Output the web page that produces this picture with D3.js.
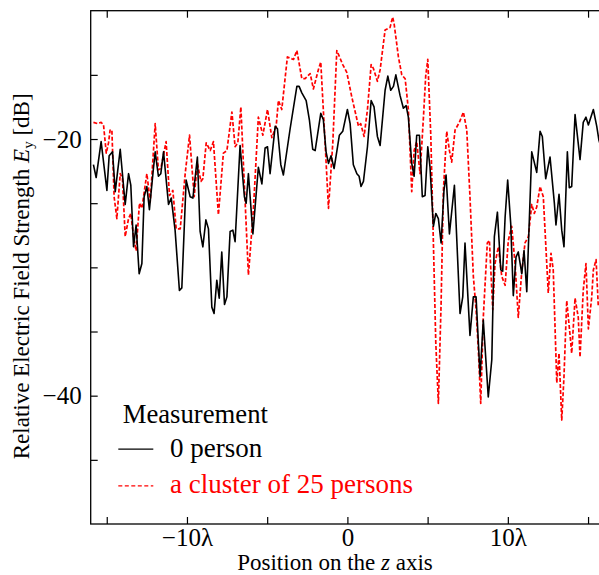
<!DOCTYPE html>
<html>
<head>
<meta charset="utf-8">
<script src="https://cdn.jsdelivr.net/npm/d3@7"></script>
<style>
body { margin: 0; background: #fff; }
svg text { font-family: "Liberation Serif", "Times New Roman", serif; }
</style>
</head>
<body>
<div id="chart"></div>
<script>
// measured field strength along z (in wavelengths), dB
let zBlack = [-15.83,-15.66,-15.35,-14.99,-14.85,-14.64,-14.47,-14.16,-13.85,-13.64,-13.50,-13.33,-13.17,-12.98,-12.81,-12.67,-12.50,-12.34,-12.09,-11.98,
  -11.78,-11.63,-11.46,-11.15,-10.98,-10.74,-10.47,-10.32,-10.05,-9.80,-9.63,-9.35,-9.18,-9.01,-8.82,-8.66,-8.45,-8.31,-8.14,-7.99,
  -7.83,-7.66,-7.51,-7.31,-7.14,-7.00,-6.69,-6.42,-6.31,-6.17,-5.89,-5.55,-5.33,-5.13,-4.98,-4.82,-4.50,-4.36,-4.15,-3.99,
  -3.57,-3.15,-3.01,-2.84,-2.57,-2.37,-2.16,-2.01,-1.66,-1.50,-1.33,-1.18,-1.02,-0.83,-0.50,-0.29,0,0.17,0.37,0.59,
  0.73,0.85,1.00,1.25,1.48,1.66,1.87,2.04,2.35,2.52,2.70,2.87,3.02,3.28,3.49,3.66,3.80,4.01,4.16,4.32,
  4.49,4.67,4.84,5.01,5.15,5.36,5.51,5.67,5.84,6.02,6.15,6.36,6.67,7.02,7.19,7.33,7.64,7.85,8.02,8.27,
  8.47,8.78,9.00,9.16,9.35,9.56,9.68,9.83,9.99,10.18,10.34,10.51,10.65,10.87,11.01,11.18,11.49,11.80,12.01,12.15,
  12.36,12.63,12.90,13.00,13.19,13.36,13.50,13.71,13.83,13.98,14.19,14.50,14.70,14.87,15.02,15.33,15.54,15.68,15.87];
let dbBlack = [-22.0,-23.0,-20.2,-24.0,-21.3,-21.0,-24.1,-20.8,-25.1,-22.7,-23.6,-28.4,-26.7,-30.5,-29.7,-24.5,-23.7,-25.5,-22.3,-21.0,
  -22.9,-22.7,-21.0,-25.1,-24.6,-27.1,-31.8,-31.6,-23.2,-24.5,-24.6,-21.4,-27.2,-28.4,-26.3,-27.0,-33.1,-33.6,-31.0,-32.4,
  -28.8,-32.9,-32.3,-27.2,-27.1,-28.0,-20.5,-24.5,-25.0,-22.7,-27.4,-22.2,-23.5,-20.7,-20.6,-22.7,-19.0,-19.2,-22.0,-22.8,
  -19.2,-15.9,-15.9,-16.4,-17.0,-18.5,-20.8,-20.9,-18.0,-18.5,-21.0,-21.9,-21.3,-22.3,-19.7,-19.4,-17.7,-18.8,-22.0,-22.7,
  -22.9,-23.7,-23.3,-20.6,-17.0,-17.5,-19.8,-20.5,-16.2,-15.1,-16.2,-15.9,-15.0,-16.6,-17.6,-17.4,-18.3,-21.9,-22.9,-19.7,
  -19.7,-24.5,-24.4,-20.6,-22.2,-26.8,-25.8,-26.2,-28.1,-24.0,-22.8,-27.4,-23.6,-33.6,-32.3,-28.1,-35.3,-32.3,-32.3,-38.5,
  -34.1,-40.1,-37.2,-27.6,-25.7,-30.2,-30.3,-26.1,-23.2,-26.6,-32.2,-29.2,-28.8,-30.5,-28.7,-31.9,-21.0,-22.6,-19.4,-19.8,
  -23.1,-21.4,-25.0,-26.7,-24.3,-27.1,-28.4,-21.0,-23.8,-23.7,-18.1,-21.6,-18.7,-18.3,-18.9,-17.7,-19.0,-20.1,-20.9];

let zRed = [-15.83,-15.58,-15.35,-15.20,-15.03,-14.89,-14.79,-14.68,-14.54,-14.37,-14.16,-14.02,-13.85,-13.64,-13.50,-13.33,-13.17,-12.96,-12.81,-12.50,
  -12.29,-11.98,-11.78,-11.63,-11.30,-11.09,-10.88,-10.67,-10.42,-10.11,-9.84,-9.55,-9.35,-9.13,-9.01,-8.80,-8.55,-8.35,-8.04,-7.73,
  -7.51,-7.20,-7.00,-6.83,-6.64,-6.37,-6.17,-5.86,-5.55,-5.27,-4.98,-4.71,-4.44,-4.30,-4.09,-3.74,-3.57,-3.36,-3.15,-2.84,
  -2.64,-2.32,-2.12,-1.81,-1.66,-1.39,-1.18,-0.91,-0.66,-0.29,-0.04,0.27,0.69,0.83,1.04,1.25,1.48,1.62,1.87,2.04,
  2.35,2.66,2.82,2.91,3.18,3.39,3.60,3.80,4.01,4.16,4.32,4.53,4.74,4.88,5.01,5.20,5.36,5.51,5.67,5.84,
  5.98,6.19,6.36,6.50,6.71,6.98,7.23,7.44,7.64,7.85,8.02,8.16,8.31,8.47,8.72,8.85,9.06,9.20,9.41,9.62,
  9.83,10.03,10.24,10.45,10.65,10.87,11.07,11.28,11.49,11.65,11.80,12.01,12.21,12.52,12.69,12.83,13.05,13.19,13.36,13.50,
  13.67,13.88,13.98,14.19,14.39,14.50,14.70,14.87,15.02,15.23,15.33,15.50,15.64];
let dbRed = [-18.7,-18.8,-18.7,-18.9,-21.1,-20.3,-19.3,-19.3,-24.5,-26.2,-22.7,-23.1,-27.6,-26.2,-25.8,-27.6,-28.7,-25.0,-25.4,-22.7,
  -24.9,-18.8,-22.4,-22.3,-20.2,-24.4,-24.0,-27.0,-27.0,-22.7,-19.7,-24.5,-21.9,-23.3,-23.1,-20.3,-20.9,-20.2,-25.9,-21.1,
  -20.9,-17.9,-20.6,-20.3,-17.5,-25.0,-30.6,-25.5,-18.3,-19.7,-17.7,-19.9,-19.0,-17.0,-17.7,-13.6,-13.7,-13.8,-13.1,-15.3,
  -15.3,-14.9,-16.1,-14.6,-14.0,-20.3,-25.4,-20.3,-13.1,-14.2,-14.8,-16.7,-19.0,-18.8,-19.8,-17.7,-14.2,-14.5,-15.5,-14.6,
  -11.5,-11.3,-10.5,-11.0,-13.6,-15.0,-15.3,-17.7,-24.1,-20.9,-20.2,-22.7,-18.3,-15.1,-13.8,-19.8,-28.1,-35.9,-40.6,-32.8,
  -24.1,-19.4,-20.9,-21.8,-19.3,-18.7,-17.9,-19.3,-24.5,-30.7,-33.3,-36.4,-40.6,-33.9,-28.1,-27.9,-33.3,-29.7,-28.4,-30.7,
  -31.4,-27.9,-26.8,-29.7,-33.9,-30.3,-28.1,-27.6,-25.1,-25.8,-25.3,-23.7,-24.5,-32.0,-28.9,-30.2,-39.0,-36.7,-41.9,-38.5,
  -32.6,-35.3,-36.7,-32.4,-33.9,-37.0,-31.8,-29.7,-34.8,-32.3,-30.2,-29.4,-33.1];

let seriesNames = ["0 person", "a cluster of 25 persons"];
let seriesColors = ["#000000", "#ff0000"];
let legendTitle = "Measurement";

let xTicks = [-15, -10, -5, 0, 5, 10, 15];
let xTickLabels = {"-10": "\u221210\u03bb", "0": "0", "10": "10\u03bb"};
let yTicks = [-45, -40, -35, -30, -25, -20, -15];
let yTickLabels = {"-20": "\u221220", "-40": "\u221240"};

let W = 599, H = 575;
let mLeft = 90.7, mTop = 10.7, mRight = 604.1, mBottom = 524;
const SERIF = "'Liberation Serif', 'Times New Roman', serif";

let svg = d3.select("#chart").append("svg").attr("width", W).attr("height", H)
  .style("font-family", SERIF);

let x_scale = d3.scaleLinear().domain([-16, 16]).range([mLeft, mRight]);
let y_scale = d3.scaleLinear().domain([-50, -10]).range([mBottom, mTop]);

svg.append("clipPath").attr("id", "plotclip")
  .append("rect").attr("x", mLeft).attr("y", mTop).attr("width", mRight - mLeft).attr("height", mBottom - mTop);

// axes, ticks pointing inward
let x_axis = d3.axisBottom(x_scale).tickValues(xTicks).tickSize(-7).tickPadding(4)
  .tickFormat(d => xTickLabels[d] || "");
let gx = svg.append("g").attr("transform", `translate(0, ${mBottom})`).call(x_axis);
let gxTop = svg.append("g").attr("transform", `translate(0, ${mTop})`)
  .call(d3.axisTop(x_scale).tickValues(xTicks).tickSize(-7).tickFormat(""));

let y_axis = d3.axisLeft(y_scale).tickValues(yTicks).tickSize(-7).tickPadding(9)
  .tickFormat(d => yTickLabels[d] || "");
let gy = svg.append("g").attr("transform", `translate(${mLeft}, 0)`).call(y_axis);

[gx, gxTop, gy].forEach(g => {
  g.select(".domain").remove();
  g.attr("font-family", SERIF);
  g.selectAll(".tick line").attr("stroke", "#000").attr("stroke-width", 1.2);
  g.selectAll(".tick text").attr("fill", "#000").style("font-size", "25px")
    .style("font-family", SERIF);
});

// frame
svg.append("rect").attr("x", mLeft).attr("y", mTop).attr("width", mRight - mLeft).attr("height", mBottom - mTop)
  .attr("fill", "none").attr("stroke", "#000").attr("stroke-width", 1.3);

let line = d3.line().x(d => x_scale(d[0])).y(d => y_scale(d[1]));

let blackPts = zBlack.map((z, i) => [z, dbBlack[i]]);
let redPts = zRed.map((z, i) => [z, dbRed[i]]);

let plot = svg.append("g").attr("clip-path", "url(#plotclip)");
plot.append("path").datum(redPts)
  .attr("fill", "none").attr("stroke", seriesColors[1]).attr("stroke-width", 1.7)
  .attr("stroke-dasharray", "4,2").attr("stroke-linejoin", "round")
  .attr("d", line);
plot.append("path").datum(blackPts)
  .attr("fill", "none").attr("stroke", seriesColors[0]).attr("stroke-width", 1.6)
  .attr("stroke-linejoin", "round")
  .attr("d", line);

// axis labels
svg.append("text").attr("x", 335).attr("y", 570).attr("text-anchor", "middle")
  .style("font-size", "23px").style("font-family", SERIF)
  .call(t => {
    t.append("tspan").text("Position on the ");
    t.append("tspan").style("font-style", "italic").text("z");
    t.append("tspan").text(" axis");
  });

let ylab = svg.append("text")
  .attr("transform", `translate(29, ${(mTop + mBottom) / 2 + 9}) rotate(-90)`)
  .attr("text-anchor", "middle").style("font-size", "23px").style("font-family", SERIF);
ylab.append("tspan").text("Relative Electric Field Strength ");
ylab.append("tspan").style("font-style", "italic").text("E");
ylab.append("tspan").style("font-size", "15px").attr("dy", 4).text("y");
ylab.append("tspan").attr("dy", -4).text(" [dB]");

// legend
let lg = svg.append("g").attr("font-family", SERIF);
lg.append("text").attr("x", 122.7).attr("y", 423.3)
  .style("font-size", "26.7px").style("font-family", SERIF).text(legendTitle);
let legendRows = [456.7, 493.3];
seriesNames.forEach((name, i) => {
  let yy = legendRows[i];
  lg.append("line").attr("x1", 118.3).attr("x2", 153.3).attr("y1", yy - 7.5).attr("y2", yy - 7.5)
    .attr("stroke", seriesColors[i]).attr("stroke-width", 1.2)
    .attr("stroke-dasharray", i == 1 ? "4,2.5" : null);
  lg.append("text").attr("x", 170).attr("y", yy).style("font-size", "27px").style("font-family", SERIF)
    .attr("fill", seriesColors[i]).text(name);
});
</script>
</body>
</html>
